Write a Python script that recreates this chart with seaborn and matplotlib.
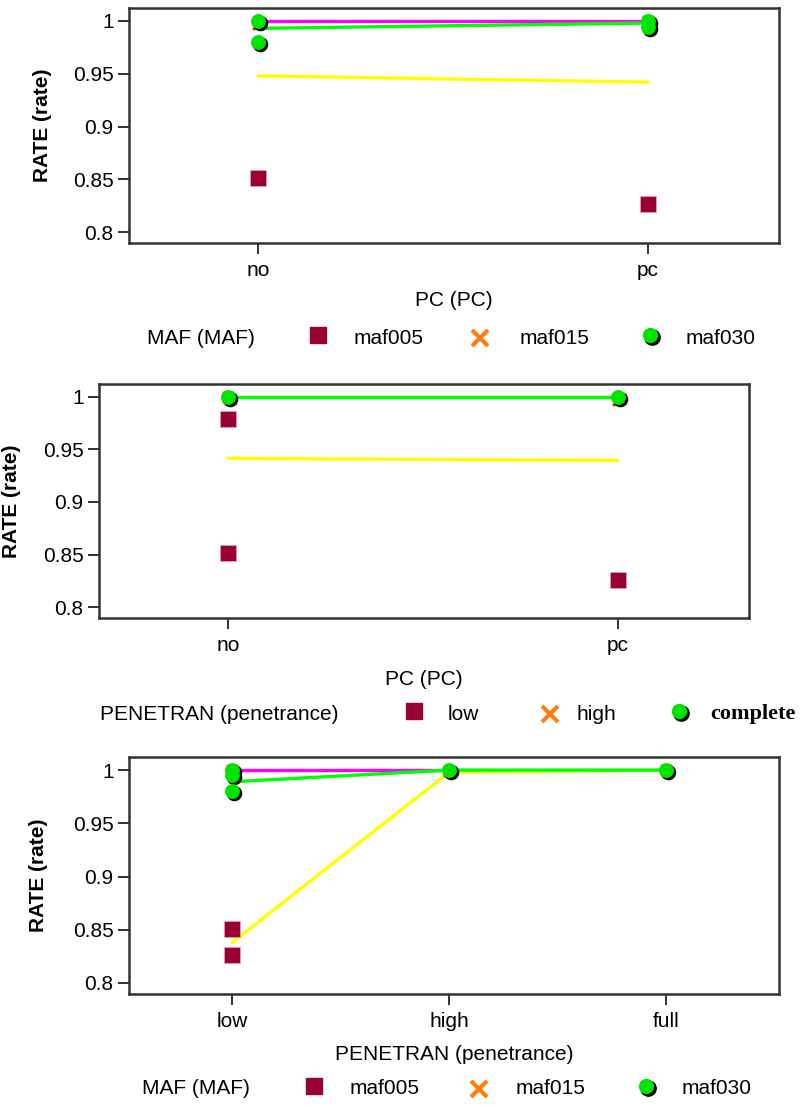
import pandas as pd
import seaborn as sns
import matplotlib.pyplot as plt
from matplotlib.transforms import ScaledTranslation

sns.set_theme(style='white')
plt.rcParams['font.family'] = ['Liberation Sans', 'DejaVu Sans']
plt.rcParams['text.color'] = 'black'
plt.rcParams['axes.labelcolor'] = 'black'
plt.rcParams['xtick.color'] = 'black'
plt.rcParams['ytick.color'] = 'black'

# category levels
pc_levels = ['no', 'pc']
pen_levels = ['low', 'high', 'full']

# panel 1: RATE by PC, markers by MAF
p1_sq_x = ['no', 'pc']
p1_sq_y = [0.851, 0.8265]
p1_xx_x = ['no', 'pc']
p1_xx_y = [0.997, 1.0]
p1_ci_x = ['no', 'no', 'pc', 'pc']
p1_ci_y = [1.0, 0.980, 1.0, 0.994]
p1_magenta = [1.0, 1.0]
p1_green = [0.993, 0.998]
p1_yellow = [0.948, 0.942]

# panel 2: RATE by PC, markers by PENETRAN
p2_sq_x = ['no', 'no', 'pc']
p2_sq_y = [0.979, 0.851, 0.826]
p2_xx_x = ['no', 'pc']
p2_xx_y = [1.0, 0.997]
p2_ci_x = ['no', 'pc']
p2_ci_y = [1.0, 1.0]
p2_green = [1.0, 1.0]
p2_yellow = [0.9415, 0.9396]

# panel 3: RATE by PENETRAN, markers by MAF
p3_sq_x = ['low', 'low']
p3_sq_y = [0.851, 0.826]
p3_xx_x = ['low', 'high', 'full']
p3_xx_y = [1.0, 0.999, 1.0]
p3_ci_x = ['low', 'low', 'low', 'high', 'full']
p3_ci_y = [1.0, 0.995, 0.980, 1.0, 1.0]
p3_magenta = [1.0, 1.0, None]
p3_green = [0.989, 1.0, 1.0]
p3_yellow = [0.838, 0.998, 1.0]

SQ = '#990033'
XO = '#ff7f0e'
GR = '#00e400'

W, H = 807, 1109
fig = plt.figure(figsize=(W / 100, H / 100), dpi=100)


def px_axes(left, top, right, bottom):
    return fig.add_axes([left / W, 1 - bottom / H, (right - left) / W, (bottom - top) / H])


def draw_lines(ax, levels, series):
    for vals, col in series:
        df = pd.DataFrame({'x': range(len(levels)), 'y': vals}).dropna()
        sns.lineplot(data=df, x='x', y='y', ax=ax, color=col, linewidth=2.4,
                     estimator=None, sort=False, legend=False)


def draw_points(ax, levels, sq, xx, ci):
    pos = {c: i for i, c in enumerate(levels)}
    sns.scatterplot(x=[pos[c] for c in sq[0]], y=sq[1], ax=ax, marker='s', s=125,
                    color=SQ, linewidth=0.4, edgecolor='#e8b0c0', legend=False, zorder=3)
    sns.scatterplot(x=[pos[c] for c in xx[0]], y=xx[1], ax=ax, marker='x', s=60,
                    color='#e83010', linewidth=2.2, legend=False, zorder=3)
    cx = [pos[c] for c in ci[0]]
    sns.scatterplot(x=cx, y=ci[1], ax=ax, marker='o', s=125, color='black',
                    linewidth=0, legend=False, zorder=4)
    ax.collections[-1].set_offset_transform(
        ax.transData + ScaledTranslation(0.02, -0.02, fig.dpi_scale_trans))
    sns.scatterplot(x=cx, y=ci[1], ax=ax, marker='o', s=115, color=GR,
                    linewidth=0, legend=False, zorder=5)


def style_axes(ax, levels, xlim, xlabel, xlab_y, ylab_x):
    ax.set_xlim(*xlim)
    ax.set_ylim(0.7896, 1.0123)
    ax.set_xticks(range(len(levels)))
    ax.set_xticklabels(levels)
    ax.set_yticks([0.8, 0.85, 0.9, 0.95, 1.0])
    ax.set_yticklabels(['0.8', '0.85', '0.9', '0.95', '1'])
    ax.tick_params(axis='both', which='both', direction='out', length=8, width=1.3,
                   color='#222222', labelsize=15, pad=3, bottom=True, left=True)
    ax.tick_params(axis='x', pad=5)
    for sp in ax.spines.values():
        sp.set_color('#333333')
        sp.set_linewidth(1.8)
    ax.set_xlabel(xlabel, fontsize=15)
    ax.xaxis.set_label_coords(0.5, xlab_y)
    ax.set_ylabel('RATE (rate)', fontsize=15, fontweight='bold')
    ax.yaxis.set_label_coords(ylab_x, 0.5)


# panel 1
ax1 = px_axes(129, 8, 779, 243)
draw_lines(ax1, pc_levels, [(p1_yellow, '#ffff00'), (p1_magenta, '#ff00ff'), (p1_green, '#00ff00')])
draw_points(ax1, pc_levels, (p1_sq_x, p1_sq_y), (p1_xx_x, p1_xx_y), (p1_ci_x, p1_ci_y))
style_axes(ax1, pc_levels, (-0.331, 1.336), 'PC (PC)', -48 / 235, -77 / 650)

# panel 2
ax2 = px_axes(99, 384, 749, 618)
draw_lines(ax2, pc_levels, [(p2_yellow, '#ffff00'), (p2_green, '#00ff00')])
draw_points(ax2, pc_levels, (p2_sq_x, p2_sq_y), (p2_xx_x, p2_xx_y), (p2_ci_x, p2_ci_y))
style_axes(ax2, pc_levels, (-0.331, 1.336), 'PC (PC)', -52 / 234, -78 / 650)

# panel 3
ax3 = px_axes(129, 757, 779, 994)
draw_lines(ax3, pen_levels, [(p3_yellow, '#ffff00'), (p3_magenta, '#ff00ff'), (p3_green, '#00ff00')])
draw_points(ax3, pen_levels, (p3_sq_x, p3_sq_y), (p3_xx_x, p3_xx_y), (p3_ci_x, p3_ci_y))
style_axes(ax3, pen_levels, (-0.475, 2.52), 'PENETRAN (penetrance)', -51 / 237, -81 / 650)

# legends drawn on an overlay in pixel space
lax = fig.add_axes([0, 0, 1, 1])
lax.set_xlim(0, W)
lax.set_ylim(H, 0)
lax.axis('off')


def legend_row(y, title, labels, xs, serif_last=False):
    title_x, sq_x, l1_x, x_x, l2_x, c_x, l3_x = xs
    lax.text(title_x, y, title, fontsize=15, va='center', ha='left')
    lax.plot([sq_x], [y - 3], marker='s', markersize=11, color=SQ, linestyle='none')
    lax.text(l1_x, y, labels[0], fontsize=15, va='center', ha='left')
    lax.plot([x_x], [y], marker='x', markersize=12, mew=3, color=XO, linestyle='none')
    lax.text(l2_x, y, labels[1], fontsize=15, va='center', ha='left')
    lax.plot([c_x + 1.5], [y - 1.5], marker='o', markersize=11, color='black', linestyle='none')
    lax.plot([c_x], [y - 3], marker='o', markersize=10, color=GR, linestyle='none')
    if serif_last:
        lax.text(l3_x, y, labels[2], fontsize=16, va='center', ha='left',
                 family='Liberation Serif', fontweight='bold')
    else:
        lax.text(l3_x, y, labels[2], fontsize=15, va='center', ha='left')


legend_row(338, 'MAF (MAF)', ['maf005', 'maf015', 'maf030'],
           (147, 318, 354, 480, 520, 650, 686))
legend_row(714, 'PENETRAN (penetrance)', ['low', 'high', 'complete'],
           (100, 414, 448, 550, 576, 679, 710), serif_last=True)
legend_row(1089, 'MAF (MAF)', ['maf005', 'maf015', 'maf030'],
           (142, 314, 350, 479, 516, 646, 682))

fig.savefig('out.png', dpi=100)
